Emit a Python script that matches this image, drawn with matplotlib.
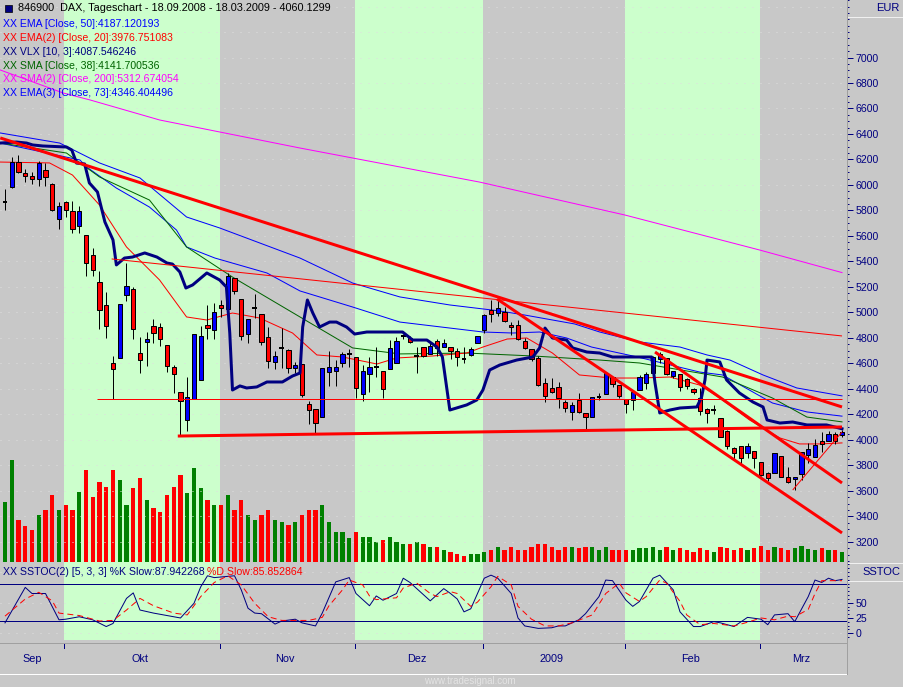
import matplotlib
matplotlib.use("Agg")
import matplotlib.pyplot as plt
from matplotlib.patches import Rectangle
from matplotlib.ticker import MultipleLocator

# DAX daily candles 18.09.2008 - 18.03.2009 (trading day index 0..124)
opens = [5866, 5982, 6183, 6092, 6068, 6047, 6115, 6008, 5731,
         5864, 5796, 5681, 5605, 5449, 5237, 5056, 4601, 4645, 5135, 5187, 4680, 4767, 4896, 4884, 4743, 4570, 4374, 4157, 4324, 4468, 4902, 4863,
         5059, 5025, 5268, 5103, 4831, 5030, 4986, 4805, 4613, 4716, 4706, 4562, 4596, 4282, 4241, 4178, 4531, 4539, 4601, 4670,
         4650, 4358, 4515, 4568, 4541, 4554, 4606, 4814, 4802, 4657, 4727, 4675, 4779, 4732, 4727, 4700, 4640, 4667, 4759,
         4863, 5020, 4994, 5006, 4902, 4902, 4779, 4711, 4641, 4444, 4405, 4418, 4300, 4217, 4314, 4209, 4178, 4333, 4361, 4497, 4429,
         4319, 4314, 4392, 4449, 4528, 4633, 4641, 4502, 4518, 4476, 4397, 4327, 4241, 4235, 4170, 4071, 3935, 3953, 3895, 3916,
         3830, 3739, 3739, 3874, 3712, 3692, 3733, 3882, 3869, 3995, 3995, 4047, 4039]
highs = [5966, 6217, 6235, 6123, 6104, 6188, 6170, 6018, 5869,
         5875, 5875, 5835, 5605, 5504, 5323, 5158, 4659, 5070, 5391, 5197, 4810, 4847, 4947, 4915, 4743, 4588, 4374, 4496, 4829, 4894, 5059, 5072,
         5098, 5307, 5268, 5103, 4946, 5146, 4986, 4889, 4700, 4876, 4711, 4614, 4596, 4308, 4241, 4567, 4700, 4627, 4693, 4711,
         4650, 4588, 4649, 4732, 4541, 4784, 4805, 4833, 4815, 4732, 4727, 4771, 4790, 4790, 4727, 4719, 4727, 4727, 4816,
         4985, 5098, 5104, 5046, 4929, 4941, 4797, 4711, 4659, 4484, 4484, 4457, 4314, 4300, 4371, 4209, 4340, 4371, 4536, 4497, 4429,
         4319, 4392, 4510, 4536, 4659, 4693, 4641, 4541, 4518, 4490, 4410, 4405, 4250, 4275, 4170, 4078, 3948, 3953, 3979, 3916,
         3830, 3745, 3900, 3874, 3786, 3708, 3908, 3974, 4005, 4065, 4073, 4065, 4078]
lows = [5804, 5975, 6092, 6027, 6008, 5992, 5995, 5796, 5655,
        5747, 5626, 5621, 5289, 5289, 4873, 4802, 4324, 4640, 5093, 4794, 4528, 4580, 4759, 4740, 4531, 4371, 4031, 4073, 4324, 4468, 4790, 4790,
        4967, 5020, 5142, 4784, 4759, 4955, 4745, 4562, 4557, 4562, 4523, 4523, 4340, 4125, 4052, 4178, 4426, 4426, 4570, 4570,
        4330, 4308, 4379, 4497, 4327, 4554, 4606, 4790, 4760, 4528, 4650, 4675, 4659, 4732, 4633, 4580, 4606, 4660, 4759,
        4837, 4925, 4970, 4929, 4823, 4784, 4713, 4622, 4423, 4300, 4366, 4253, 4220, 4157, 4209, 4084, 4178, 4311, 4361, 4415, 4327,
        4209, 4235, 4392, 4398, 4528, 4601, 4510, 4484, 4387, 4400, 4360, 4196, 4131, 4200, 4020, 3927, 3843, 3812, 3856, 3778,
        3715, 3675, 3739, 3708, 3665, 3608, 3686, 3817, 3869, 3908, 3995, 3969, 4026]
closes = [5869, 6183, 6104, 6067, 6050, 6170, 6060, 5804, 5833,
          5801, 5657, 5796, 5389, 5331, 5017, 4892, 4554, 5063, 5208, 4868, 4630, 4790, 4837, 4790, 4578, 4520, 4303, 4340, 4829, 4816, 4876, 5000,
          5033, 5286, 5166, 4818, 4946, 5036, 4769, 4622, 4656, 4720, 4562, 4588, 4353, 4235, 4136, 4567, 4570, 4570, 4672, 4673,
          4405, 4541, 4575, 4571, 4397, 4719, 4778, 4817, 4771, 4660, 4659, 4737, 4719, 4763, 4700, 4653, 4637, 4711, 4816,
          4980, 4988, 5033, 4935, 4884, 4790, 4725, 4633, 4431, 4345, 4374, 4327, 4248, 4275, 4222, 4183, 4335, 4337, 4523, 4439, 4345,
          4280, 4379, 4497, 4518, 4649, 4675, 4518, 4541, 4414, 4423, 4376, 4230, 4214, 4236, 4026, 3953, 3900, 3856, 3953, 3856,
          3725, 3699, 3900, 3708, 3673, 3708, 3908, 3927, 3961, 3969, 4047, 3995, 4065]
volume = [60, 102, 42, 36, 32, 47, 52, 67, 52,
          57, 52, 70, 92, 65, 80, 75, 92, 82, 57, 74, 84, 62, 54, 50, 67, 75, 87, 69, 94, 74, 62, 57,
          57, 67, 52, 62, 47, 42, 47, 52, 42, 40, 37, 40, 47, 52, 52, 57, 40, 30, 30, 24,
          30, 25, 25, 20, 22, 25, 20, 18, 18, 20, 18, 15, 15, 12, 10, 8, 6, 8, 8,
          10, 12, 15, 12, 15, 12, 12, 15, 18, 18, 15, 12, 15, 15, 14, 15, 15, 12, 15, 12, 12,
          12, 12, 14, 14, 15, 12, 15, 12, 14, 12, 10, 14, 12, 10, 15, 14, 12, 14, 12, 14,
          16, 12, 15, 14, 12, 14, 16, 13, 12, 14, 12, 12, 10]

month_names = ["Sep", "Okt", "Nov", "Dez", "2009", "Feb", "Mrz"]
month_start = [0, 9, 32, 52, 71, 92, 112]
n_days = 125

# indicator lines, read at knots (day index, value)
sma200_i = [-0.7, 8.6, 12.6, 22.9, 43.7, 70.3, 91.8, 111.8, 124]
sma200_v = [6902, 6722, 6667, 6510, 6290, 6023, 5765, 5490, 5313]
ema73_i = [-0.7, 8.1, 14, 20, 26.9, 31.8, 43.7, 51.5, 58.5, 65.9, 73.3, 77, 84.4, 88.1, 94, 100, 104, 107.4, 112.3, 117.3, 124]
ema73_v = [6408, 6329, 6173, 6055, 5749, 5663, 5427, 5231, 5122, 5059, 5012, 4980, 4910, 4847, 4769, 4729, 4667, 4627, 4510, 4408, 4346]
ema50_i = [-0.7, 11.1, 12.1, 16.5, 21.4, 25.4, 26.9, 31.1, 38.8, 43.7, 51.5, 58.5, 65.9, 70.8, 75.2, 79.2, 83.2, 86.9, 93.7, 102.9, 106.3, 113.7, 118.8, 124]
ema50_v = [6329, 6196, 6141, 5976, 5827, 5647, 5514, 5427, 5310, 5169, 5043, 4925, 4878, 4847, 4839, 4847, 4800, 4729, 4651, 4533, 4510, 4290, 4220, 4187]
sma38_i = [-0.7, 9.1, 14, 21.4, 26.9, 33.7, 43.7, 51.5, 58.5, 68.4, 78.2, 88.1, 94, 106.3, 113.7, 118.8, 124]
sma38_v = [6329, 6251, 6063, 5882, 5514, 5278, 4965, 4722, 4675, 4682, 4659, 4627, 4604, 4494, 4329, 4180, 4142]
ema20_i = [-0.7, 6.6, 10, 14, 18, 22.9, 26.9, 29.9, 33.7, 37.7, 42.6, 46.2, 50, 55.1, 58, 63.4, 68.4, 70.8, 74.4, 77.3, 81.1,
           85.1, 89.9, 94, 98.5, 102.9, 105.9, 110.3, 114.8, 117.7, 120.7, 124]
ema20_v = [6180, 6173, 6078, 5843, 5514, 5255, 4965, 4941, 4996, 4957, 4839, 4667, 4651, 4596, 4643, 4659, 4682, 4729, 4792, 4800, 4682,
           4510, 4486, 4486, 4494, 4431, 4329, 4157, 4016, 3969, 3969, 3977]
vlx_i = [-0.7, 1.7, 3.2, 4.1, 5.6, 9.1, 9.9, 10.6, 11.8, 12.5, 13.7, 14.8, 16.0, 16.5, 17.7, 18.9, 20.7, 22.5, 24.0, 24.8, 25.9,
         26.8, 27.8, 29.9, 31.8, 32.8, 33.3, 33.7, 34.8, 35.8, 37.3, 38.8, 41.1, 42.6, 43.7, 44.1, 44.8, 45.6, 46.6, 48.1, 49.1,
         50.6, 51.8, 53.6, 56.5, 58.9, 60.4, 62.5, 64.0, 64.8, 65.9, 68.4, 69.9, 70.8, 71.8, 73.3, 75.8, 78.2, 79.2, 80.0, 81.1,
         83.2, 84.1, 86.2, 88.1, 90.0, 95.8, 96.3, 97.0, 98.5, 100.0, 102.5, 103.2, 103.7, 104.0, 105.9, 106.9, 108.8, 110.8,
         112.3, 112.9, 114.8, 116.7, 118.8, 121.7, 124]
vlx_v = [6329, 6337, 6329, 6314, 6306, 6298, 6274, 6172, 6165, 6016, 5945, 5710, 5569, 5373, 5427, 5435, 5467, 5435, 5388, 5380, 5318,
         5192, 5216, 5310, 5255, 5200, 4839, 4392, 4424, 4408, 4416, 4455, 4455, 4502, 4525, 4886, 5098, 4996, 4886, 4925, 4925,
         4886, 4831, 4847, 4847, 4847, 4784, 4784, 4729, 4651, 4235, 4275, 4314, 4392, 4549, 4588, 4627, 4651, 4722, 4878, 4800,
         4784, 4722, 4690, 4682, 4651, 4651, 4447, 4212, 4235, 4251, 4259, 4337, 4471, 4627, 4612, 4471, 4369, 4298,
         4259, 4157, 4133, 4141, 4118, 4118, 4088]

# hand-drawn trend lines: (start index, start price, end index, end price, thick)
trend_lines = [
    (-0.7, 6369, 124, 4259, True),
    (72.9, 5106, 124, 3271, True),
    (96.3, 4690, 124, 3663, True),
    (25.6, 4031, 124, 4102, True),
    (15.8, 5420, 124, 4816, False),
    (13.7, 4322, 124, 4322, False),
    (116.7, 3608, 124, 4063, False),
]

# slow stochastic (day index, value)
stk_i = [0, 3, 4, 6, 8, 9, 11, 13, 15, 16, 18, 19, 20, 22, 26, 28, 29, 30, 31, 34, 35, 36, 37, 38, 40, 41, 43, 44, 46, 47, 49, 51,
         52, 54, 55, 56, 58, 59, 60, 63, 65, 66, 67, 68, 69, 71, 72, 73, 75, 76, 77, 79, 81, 82, 83, 85, 86, 88, 89, 90, 92, 93,
         94, 96, 97, 99, 100, 102, 103, 105, 106, 108, 110, 112, 113, 114, 116, 117, 119, 120, 121, 122, 123, 124]
stk_v = [17, 75, 65, 65, 22, 23, 27, 22, 11, 16, 57, 66, 38, 33, 25, 49, 76, 94, 91, 94, 71, 41, 33, 32, 15, 20, 23, 17, 12, 33, 84, 91,
         65, 45, 61, 54, 65, 90, 83, 53, 73, 65, 56, 35, 40, 90, 95, 90, 65, 25, 12, 8, 9, 12, 12, 22, 32, 60, 87, 86, 54, 44,
         52, 90, 95, 71, 35, 11, 11, 19, 17, 11, 26, 23, 14, 30, 32, 19, 60, 87, 83, 90, 86, 88]
std_i = [0, 3, 5, 7, 8, 11, 14, 16, 18, 20, 22, 25, 27, 29, 31, 33, 35, 37, 39, 41, 45, 47, 48, 50, 51, 53, 54, 55, 58, 59, 61, 63,
         64, 66, 67, 69, 70, 72, 73, 75, 76, 78, 80, 82, 84, 87, 89, 91, 92, 94, 95, 97, 98, 100, 101, 103, 105, 108, 110, 112,
         114, 116, 117, 119, 120, 121, 123, 124]
std_v = [28, 56, 67, 53, 33, 29, 20, 21, 38, 57, 45, 33, 30, 60, 83, 94, 79, 49, 27, 21, 21, 26, 45, 71, 87, 79, 61, 55, 58, 74, 82, 65,
         60, 68, 65, 44, 51, 76, 93, 79, 44, 23, 12, 12, 17, 30, 65, 82, 66, 52, 60, 87, 82, 52, 30, 14, 16, 12, 18, 25,
         22, 28, 27, 39, 65, 86, 86, 86]

W, H = 904, 687
BG = "#c8c8c8"
GREEN_BAND = "#ccffcc"
NAVY = "#000080"
FONT = "Liberation Sans"
PX = 0.72  # points per pixel at 100 dpi

fig = plt.figure(figsize=(W / 100, H / 100), dpi=100, facecolor=BG)


def rect(x0, y0, x1, y1):
    return [x0 / W, 1 - y1 / H, (x1 - x0) / W, (y1 - y0) / H]


def ftext(x, y, s, **kw):
    kw.setdefault("fontsize", 7.6)
    kw.setdefault("family", FONT)
    kw.setdefault("va", "center")
    fig.text(x / W, 1 - y / H, s, **kw)


xlim = (-0.74, 124.74)


def bands(a):
    edges = [xlim[0]] + [m - 0.2 for m in month_start[1:]] + [xlim[1]]
    for k in range(len(month_start)):
        a.axvspan(edges[k], edges[k + 1], color=GREEN_BAND if k % 2 else BG, lw=0, zorder=0)


def clean(a):
    for sp in a.spines.values():
        sp.set_visible(False)


def right_ticks(a, major, minor_step):
    a.yaxis.tick_right()
    a.set_yticks(major)
    a.yaxis.set_minor_locator(MultipleLocator(minor_step))
    a.tick_params(axis="y", which="major", length=4, width=1 * PX, color=NAVY, pad=2,
                  labelcolor=NAVY, labelsize=7.6)
    a.tick_params(axis="y", which="minor", length=1.2, width=1 * PX, color=NAVY)
    for t in a.get_yticklabels():
        t.set_family(FONT)
    a.tick_params(axis="x", bottom=False, labelbottom=False)


# ---- main price panel (volume behind it)
ax_vol = fig.add_axes(rect(0, 0, 847, 562))
bands(ax_vol)
ax_vol.set_xlim(*xlim)
ax_vol.set_ylim(0, 560)
days = list(range(n_days))
vcol = ["#008000" if c >= o else "#ff0000" for o, c in zip(opens, closes)]
ax_vol.bar(days, volume, width=0.6, color=vcol, lw=0, zorder=2)
ax_vol.set_xticks([])
ax_vol.set_yticks([])
clean(ax_vol)

ax = fig.add_axes(rect(0, 0, 847, 562), sharex=ax_vol)
ax.patch.set_visible(False)
ax.set_ylim(3043, 7451)
clean(ax)
for lvl in range(3200, 7401, 200):
    ax.axhline(lvl, color="#dedede", lw=1 * PX, ls=(0, (1, 7)), zorder=1)

ax.plot(sma200_i, sma200_v, color="#ff00ff", lw=1 * PX, zorder=3)
ax.plot(ema73_i, ema73_v, color="#0000ff", lw=1 * PX, zorder=3)
ax.plot(ema50_i, ema50_v, color="#0000ff", lw=1 * PX, zorder=3)
ax.plot(sma38_i, sma38_v, color="#006400", lw=1 * PX, zorder=3)
ax.plot(ema20_i, ema20_v, color="#ff0000", lw=1 * PX, zorder=3)

for i in days:
    o, h, l, c = opens[i], highs[i], lows[i], closes[i]
    ax.vlines(i, l, h, color="black", lw=1 * PX, zorder=4)
    if abs(c - o) < 8:
        ax.hlines((o + c) / 2, i - 0.35, i + 0.35, color="black", lw=2 * PX, zorder=5)
    else:
        ax.add_patch(Rectangle((i - 0.3, min(o, c)), 0.6, abs(c - o),
                               facecolor="#0000ff" if c > o else "#ff0000",
                               edgecolor="black", lw=1 * PX, zorder=5))

ax.plot(vlx_i, vlx_v, color=NAVY, lw=3 * PX, zorder=6, solid_joinstyle="round")
for x0, y0, x1, y1, thick in trend_lines:
    ax.plot([x0, x1], [y0, y1], color="#ff0000", lw=(3 if thick else 1) * PX, zorder=7,
            solid_capstyle="butt")
right_ticks(ax, range(3200, 7001, 200), 50)

# ---- stochastic panel
ax_st = fig.add_axes(rect(0, 562, 847, 640), sharex=ax_vol)
bands(ax_st)
ax_st.set_ylim(-11, 116.5)
clean(ax_st)
for lvl in (0, 50, 100):
    ax_st.axhline(lvl, color="#dedede", lw=1 * PX, ls=(0, (1, 7)), zorder=1)
for lvl in (20, 80):
    ax_st.axhline(lvl, color=NAVY, lw=1 * PX, zorder=2)
ax_st.plot(stk_i, stk_v, color=NAVY, lw=1 * PX, zorder=3)
ax_st.plot(std_i, std_v, color="#ff0000", lw=1 * PX, ls=(0, (6, 4)), zorder=3)
right_ticks(ax_st, [0, 25, 50], 6.25)

# ---- date axis
ax_dt = fig.add_axes(rect(0, 640, 847, 675), sharex=ax_vol)
ax_dt.set_facecolor(BG)
ax_dt.set_ylim(0, 1)
ax_dt.set_yticks([])
clean(ax_dt)
ax_dt.tick_params(axis="x", bottom=False, labelbottom=False)
for m in month_start[1:]:
    ax_dt.plot([m - 0.2, m - 0.2], [0.77, 0.92], color=NAVY, lw=1 * PX)
ends = month_start[1:] + [n_days]
for name, s, e in zip(month_names, month_start, ends):
    ax_dt.text((s + e - 1) / 2, 0.45, name, color=NAVY, fontsize=7.8, family=FONT,
               ha="center", va="center")

# frame lines
fig.add_artist(plt.Line2D([0, 847 / W], [1 - 643 / H, 1 - 643 / H], color="#a0a0a0", lw=1 * PX))
fig.add_artist(plt.Line2D([0, 847 / W], [1 - 674 / H, 1 - 674 / H], color="white", lw=1 * PX))
fig.add_artist(plt.Line2D([847 / W, 847 / W], [1 - 674 / H, 1], color="#a0a0a0", lw=1 * PX))
fig.add_artist(plt.Line2D([848 / W, 1], [1 - 17 / H, 1 - 17 / H], color="#f0f0f0", lw=1 * PX))
fig.add_artist(plt.Line2D([848 / W, 1], [1 - 563 / H, 1 - 563 / H], color="#f0f0f0", lw=1 * PX))
fig.add_artist(plt.Line2D([848 / W, 1], [1 - 581 / H, 1 - 581 / H], color="#f0f0f0", lw=1 * PX))

# ---- texts
fig.add_artist(Rectangle((5 / W, 1 - 12 / H), 7 / W, 7 / H, transform=fig.transFigure,
                         facecolor=NAVY, edgecolor="black", lw=0.5))
ftext(18, 8, "846900  DAX, Tageschart - 18.09.2008 - 18.03.2009 - 4060.1299", color="black",
      fontsize=7.8)
legend = [("XX EMA [Close, 50]:4187.120193", "#0000ff"),
          ("XX EMA(2) [Close, 20]:3976.751083", "#ff0000"),
          ("XX VLX [10, 3]:4087.546246", NAVY),
          ("XX SMA [Close, 38]:4141.700536", "#006400"),
          ("XX SMA(2) [Close, 200]:5312.674054", "#ff00ff"),
          ("XX EMA(3) [Close, 73]:4346.404496", "#0000ff")]
for k, (s, col) in enumerate(legend):
    ftext(3, 24 + 13.85 * k, s, color=col)
ftext(3, 572, "XX SSTOC(2) [5, 3, 3] %K Slow:87.942268", color=NAVY)
ftext(207, 572, "%D Slow:85.852864", color="#ff0000")
ftext(900, 8, "EUR", color=NAVY, ha="right", fontsize=8)
ftext(900, 572, "SSTOC", color=NAVY, ha="right", fontsize=8)
ftext(470, 681, "www.tradesignal.com", color="#e4e4e4", ha="center", fontsize=7)

fig.savefig("out.png", dpi=100, facecolor=BG)
